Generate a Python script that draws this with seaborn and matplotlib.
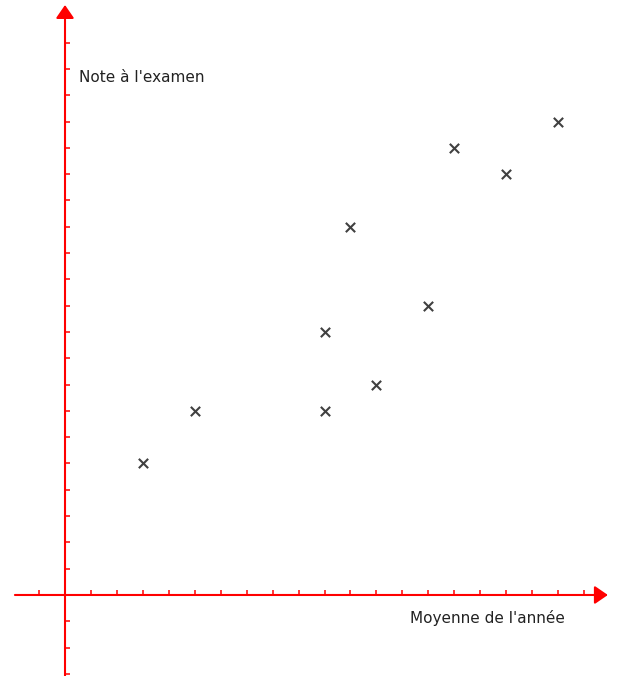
import matplotlib
matplotlib.use("Agg")
import matplotlib.pyplot as plt
import seaborn as sns
import pandas as pd

# Data
moyenne = [3, 5, 10, 10, 11, 12, 14, 15, 17, 19]
note = [5, 7, 7, 10, 14, 8, 11, 17, 16, 18]
x_ticks = list(range(-1, 21))
y_ticks = list(range(-3, 22))
x_label = "Moyenne de l'année"
y_label = "Note à l'examen"

df = pd.DataFrame({"moyenne": moyenne, "note": note})

sns.set_style("white")
plt.rcParams["font.family"] = ["DejaVu Sans"]

fig = plt.figure(figsize=(6.18, 6.76), dpi=100)
ax = fig.add_axes([0, 0, 1, 1])

sns.scatterplot(data=df, x="moyenne", y="note", marker="x", color="#404040",
                s=45, linewidth=1.5, ax=ax, zorder=3)

ax.set_xlim(-2.505, 21.31)
ax.set_ylim(-3.08, 22.62)

for sp in ax.spines.values():
    sp.set_visible(False)
ax.spines["bottom"].set_position(("data", 0))
ax.spines["left"].set_position(("data", 0))

red = "#ff0000"
arrow = "-|>,head_length=0.8,head_width=0.55"
ax.annotate("", xy=(20.92, 0), xytext=(-1.93, 0),
            arrowprops=dict(arrowstyle=arrow, color=red, lw=1.5,
                            mutation_scale=10, shrinkA=0, shrinkB=0))
ax.annotate("", xy=(0, 22.43), xytext=(0, -3.3),
            arrowprops=dict(arrowstyle=arrow, color=red, lw=1.5,
                            mutation_scale=10, shrinkA=0, shrinkB=0))

ax.set_xticks([t for t in x_ticks if t != 0])
ax.set_yticks([t for t in y_ticks if t != 0])
ax.set_xticklabels([])
ax.set_yticklabels([])
ax.tick_params(axis="x", direction="in", length=3.3, width=1.1, color=red,
               bottom=True, top=False)
ax.tick_params(axis="y", direction="in", length=3.3, width=1.1, color=red,
               left=True, right=False)
ax.set_xlabel("")
ax.set_ylabel("")
ax.grid(False)

ax.text(0.54, 19.5, y_label, fontsize=11, color="#222222", ha="left", va="baseline")
ax.text(13.29, -1.06, x_label, fontsize=11, color="#222222", ha="left", va="baseline")

fig.savefig("out.png", dpi=100)
